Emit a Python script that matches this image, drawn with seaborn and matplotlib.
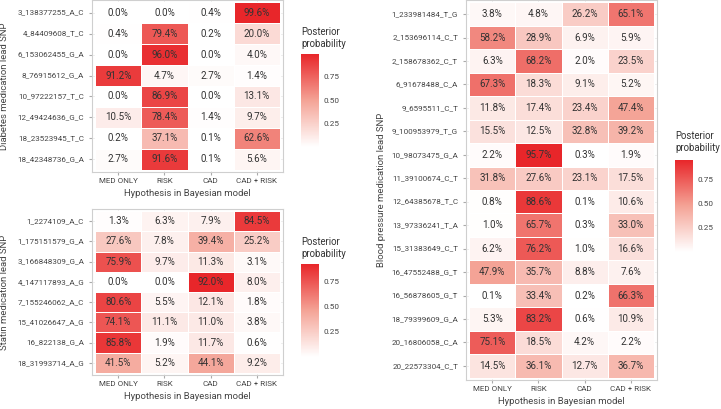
import matplotlib
matplotlib.use('Agg')
import matplotlib.pyplot as plt
from matplotlib.colors import LinearSegmentedColormap
import numpy as np
import pandas as pd
import seaborn as sns

# data (percent posterior probability per hypothesis)
hypotheses = ['MED ONLY', 'RISK', 'CAD', 'CAD + RISK']

diab_snps = ['3_138377255_A_C', '4_84409608_T_C', '6_153062455_G_A', '8_76915612_G_A',
             '10_97222157_T_C', '12_49424636_G_C', '18_23523945_T_C', '18_42348736_G_A']
diab_med_only = [0.0, 0.4, 0.0, 91.2, 0.0, 10.5, 0.2, 2.7]
diab_risk = [0.0, 79.4, 96.0, 4.7, 86.9, 78.4, 37.1, 91.6]
diab_cad = [0.4, 0.2, 0.0, 2.7, 0.0, 1.4, 0.1, 0.1]
diab_cad_risk = [99.6, 20.0, 4.0, 1.4, 13.1, 9.7, 62.6, 5.6]

statin_snps = ['1_2274109_A_C', '1_175151579_G_A', '3_166848309_G_A', '4_147117893_A_G',
               '7_155246062_A_C', '15_41026647_A_G', '16_822138_G_A', '18_31993714_A_G']
statin_med_only = [1.3, 27.6, 75.9, 0.0, 80.6, 74.1, 85.8, 41.5]
statin_risk = [6.3, 7.8, 9.7, 0.0, 5.5, 11.1, 1.9, 5.2]
statin_cad = [7.9, 39.4, 11.3, 92.0, 12.1, 11.0, 11.7, 44.1]
statin_cad_risk = [84.5, 25.2, 3.1, 8.0, 1.8, 3.8, 0.6, 9.2]

bp_snps = ['1_233981484_T_G', '2_153696114_C_T', '2_158678362_C_T', '6_91678488_C_A',
           '9_6595511_C_T', '9_100953979_T_G', '10_98073475_G_A', '11_39100674_C_T',
           '12_64385678_T_C', '13_97336241_T_A', '15_31383649_C_T', '16_47552488_G_T',
           '16_56878605_G_T', '18_79399609_G_A', '20_16806058_C_A', '20_22573304_C_T']
bp_med_only = [3.8, 58.2, 6.3, 67.3, 11.8, 15.5, 2.2, 31.8, 0.8, 1.0, 6.2, 47.9, 0.1, 5.3, 75.1, 14.5]
bp_risk = [4.8, 28.9, 68.2, 18.3, 17.4, 12.5, 95.7, 27.6, 88.6, 65.7, 76.2, 35.7, 33.4, 83.2, 18.5, 36.1]
bp_cad = [26.2, 6.9, 2.0, 9.1, 23.4, 32.8, 0.3, 23.1, 0.1, 0.3, 1.0, 8.8, 0.2, 0.6, 4.2, 12.7]
bp_cad_risk = [65.1, 5.9, 23.5, 5.2, 47.4, 39.2, 1.9, 17.5, 10.6, 33.0, 16.6, 7.6, 66.3, 10.9, 2.2, 36.7]

sns.set_style('white')
plt.rcParams['font.family'] = ['Roboto', 'DejaVu Sans']

cmap = LinearSegmentedColormap.from_list('wr', ['#ffffff', '#f4a396', '#e8262a'])
TXT = '#333333'
TICK = '#444444'

W, H = 721, 409
fig = plt.figure(figsize=(W / 100, H / 100), dpi=100)


def px_axes(x0, y0, x1, y1):
    # pixel box (top-left origin) -> figure axes
    return fig.add_axes([x0 / W, 1 - y1 / H, (x1 - x0) / W, (y1 - y0) / H])


def make_df(snps, a, b, c, d):
    return pd.DataFrame({'MED ONLY': a, 'RISK': b, 'CAD': c, 'CAD + RISK': d},
                        index=snps)[hypotheses] / 100


def draw_panel(ax, cax, df, ylabel, ylab_x, cb_title_xy):
    labels = df.map(lambda v: f'{v * 100:.1f}%')
    sns.heatmap(df, ax=ax, cmap=cmap, vmin=0, vmax=df.values.max(),
                annot=labels, fmt='', annot_kws={'color': TXT, 'fontsize': 7.1},
                linewidths=0.6, linecolor='white', cbar_ax=cax)
    n = len(df)
    ax.set_xlim(-0.07, 4.07)
    ax.set_ylim(n + 0.1, -0.1)
    for s in ax.spines.values():
        s.set_visible(True)
        s.set_color('#cfcfcf')
        s.set_linewidth(0.8)
    ax.set_axisbelow(True)
    ax.grid(True, color='#ececec', linewidth=0.6)
    ax.tick_params(axis='both', length=2.2, color='#aaaaaa', labelsize=5.8,
                   labelcolor=TICK, bottom=True, left=True)
    ax.tick_params(axis='y', pad=3.5)
    ax.tick_params(axis='x', pad=2)
    ax.set_yticklabels(df.index, rotation=0)
    ax.set_xticklabels(hypotheses, rotation=0)
    ax.set_xlabel('Hypothesis in Bayesian model', fontsize=6.8, color=TICK, labelpad=3.5)
    ax.set_ylabel(ylabel, fontsize=6.8, color=TICK)
    ax.yaxis.set_label_coords(ylab_x, 0.5)

    cbar = ax.collections[0].colorbar
    cbar.outline.set_visible(False)
    cbar.set_ticks([0.25, 0.5, 0.75])
    cbar.set_ticklabels(['0.25', '0.50', '0.75'])
    cax.tick_params(axis='y', direction='in', length=3, color='white', width=0.6,
                    labelsize=5.9, labelcolor=TICK, left=True, right=True, pad=3.5)
    fig.text(cb_title_xy[0] / W, 1 - cb_title_xy[1] / H, 'Posterior\nprobability',
             fontsize=6.9, color=TXT, ha='left', va='top', linespacing=1.2)


# diabetes (top left)
ax1 = px_axes(92, 0, 283, 172)
cax1 = px_axes(301, 54, 319, 147)
draw_panel(ax1, cax1, make_df(diab_snps, diab_med_only, diab_risk, diab_cad, diab_cad_risk),
           'Diabetes medication lead SNP', -(92 - 9) / 191, (301, 27))

# statin (bottom left)
ax2 = px_axes(92, 209, 283, 375)
cax2 = px_axes(301, 264, 319, 357)
draw_panel(ax2, cax2, make_df(statin_snps, statin_med_only, statin_risk, statin_cad, statin_cad_risk),
           'Statin medication lead SNP', -(92 - 9) / 191, (301, 237))

# blood pressure (right)
ax3 = px_axes(466, 0, 657, 380)
cax3 = px_axes(675, 160, 693, 252)
draw_panel(ax3, cax3, make_df(bp_snps, bp_med_only, bp_risk, bp_cad, bp_cad_risk),
           'Blood pressure medication lead SNP', -(466 - 386) / 191, (675, 131))

fig.savefig('out.png', dpi=100)
